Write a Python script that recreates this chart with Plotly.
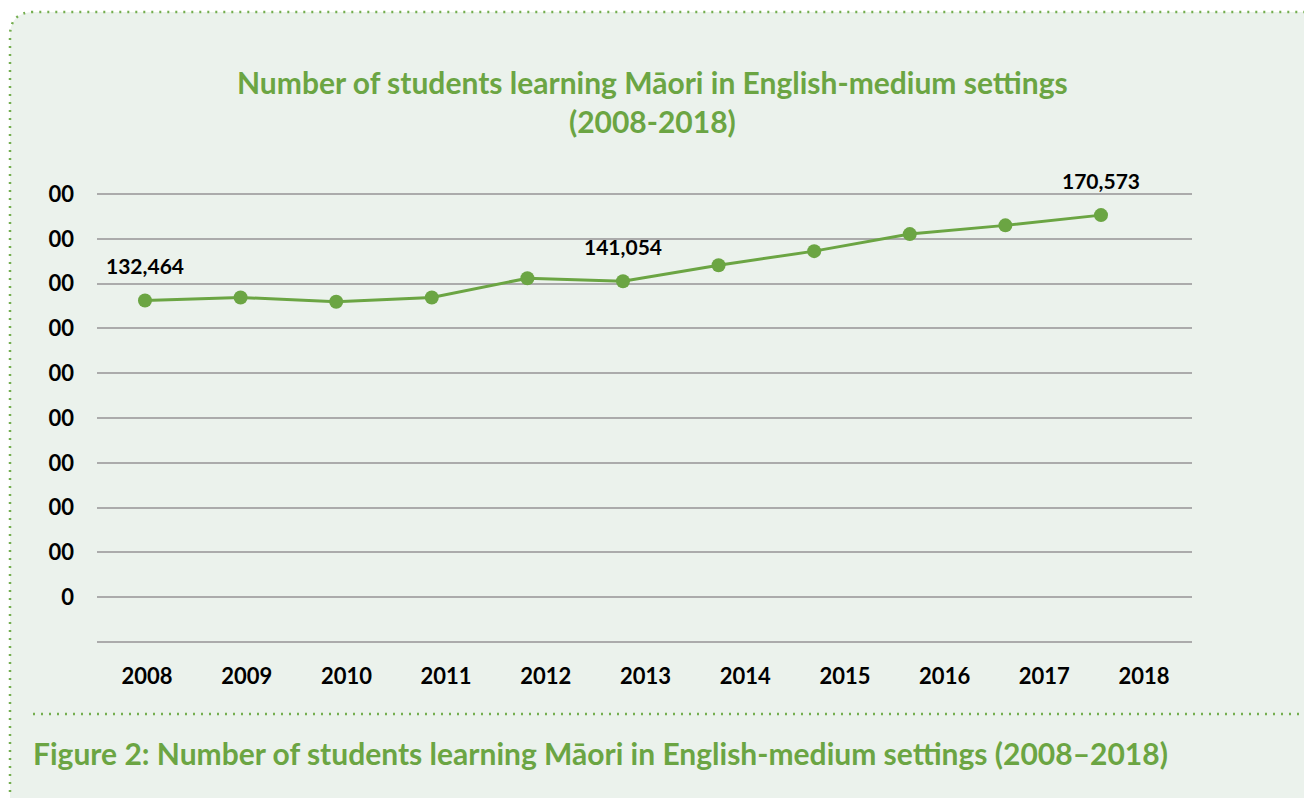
import plotly.graph_objects as go

# ---- data ----
years = [2008, 2009, 2010, 2011, 2012, 2013, 2014, 2015, 2016, 2017, 2018]
students = [132464, 133800, 131900, 133800, 142400, 141054, 148200, 154500, 162100, 166000, 170573]
labelled_years = [2008, 2013, 2018]
labelled_text = ["132,464", "141,054", "170,573"]
y_tickvals = [-20000, 0, 20000, 40000, 60000, 80000, 100000, 120000, 140000, 160000, 180000]
y_ticktext = ["", "0", "00", "00", "00", "00", "00", "00", "00", "00", "00"]
title_text = "Number of students learning Māori in English-medium settings<br>(2008-2018)"
caption_text = "Figure 2: Number of students learning Māori in English-medium settings (2008–2018)"

GREEN = "#6BA543"
DOT = "#74AE4F"
BOX = "#EBF2EC"
GRID = "#ABABAB"

W, H = 1312, 798
OFF = 8  # page body margin
L, R, T, B = 97 - OFF, 1192 - OFF, 193 - OFF, 643 - OFF


def px(x):
    return (x - OFF - L) / (R - L)


def py(y):
    return (B - (y - OFF)) / (B - T)


fig = go.Figure()

fig.add_trace(go.Scatter(
    x=years, y=students, mode="lines+markers",
    line=dict(color=GREEN, width=3),
    marker=dict(color=GREEN, size=14),
    showlegend=False, hoverinfo="x+y",
))
# invisible trace to carry the label axis
fig.add_trace(go.Scatter(
    x=years, y=students, mode="none", xaxis="x2",
    showlegend=False, hoverinfo="skip",
))

# data labels
val_by_year = dict(zip(years, students))
for yr, txt in zip(labelled_years, labelled_text):
    fig.add_annotation(x=yr, y=val_by_year[yr], xref="x", yref="y", text=txt,
                       showarrow=False, yshift=35,
                       font=dict(family="Lato", size=21, color="black", weight="bold"))

# title
fig.add_annotation(x=px(652), y=py(102), xref="paper", yref="paper", text=title_text,
                   showarrow=False, xanchor="center", yanchor="middle", align="center",
                   font=dict(family="Lato", size=30, color=GREEN, weight="bold"))
# caption
fig.add_annotation(x=px(31), y=py(753), xref="paper", yref="paper", text=caption_text,
                   showarrow=False, xanchor="left", yanchor="middle",
                   font=dict(family="Lato", size=30, color=GREEN, weight="bold"))

r = 24
x0, y0 = 10, 12
box_path = (f"M {px(x0)},{py(840)} L {px(x0)},{py(y0 + r)} "
            f"Q {px(x0)},{py(y0)} {px(x0 + r)},{py(y0)} "
            f"L {px(1340)},{py(y0)} L {px(1340)},{py(840)} Z")
fig.add_shape(type="path", path=box_path, xref="paper", yref="paper", layer="below",
              fillcolor=BOX, line=dict(color=DOT, width=2.5, dash="2px,6px"))
fig.add_shape(type="line", xref="paper", yref="paper", layer="below",
              x0=px(33), x1=px(1302), y0=py(714), y1=py(714),
              line=dict(color=DOT, width=2.5, dash="2px,6px"))

fig.update_layout(
    width=W, height=H,
    margin=dict(l=L, r=W - R, t=T, b=H - B, pad=0),
    paper_bgcolor="white",
    plot_bgcolor="rgba(0,0,0,0)",
    xaxis=dict(range=[2007.498, 2018.952], showgrid=False, zeroline=False,
               showline=False, showticklabels=False, ticks=""),
    xaxis2=dict(range=[2007.4985, 2018.481], overlaying="x", side="bottom", anchor="y",
                tickvals=years, ticktext=[str(y) for y in years], showgrid=False,
                zeroline=False, showline=False, ticks="", ticklabelstandoff=18,
                tickfont=dict(family="Lato", size=22, color="black", weight="bold")),
    yaxis=dict(range=[-20450, 180450], tickvals=y_tickvals, ticktext=y_ticktext,
               showgrid=True, gridcolor=GRID, gridwidth=2, zeroline=False,
               showline=False, ticks="", ticklabelstandoff=22,
               tickfont=dict(family="Lato", size=22, color="black", weight="bold")),
    showlegend=False,
)

fig.write_html("out.html")
